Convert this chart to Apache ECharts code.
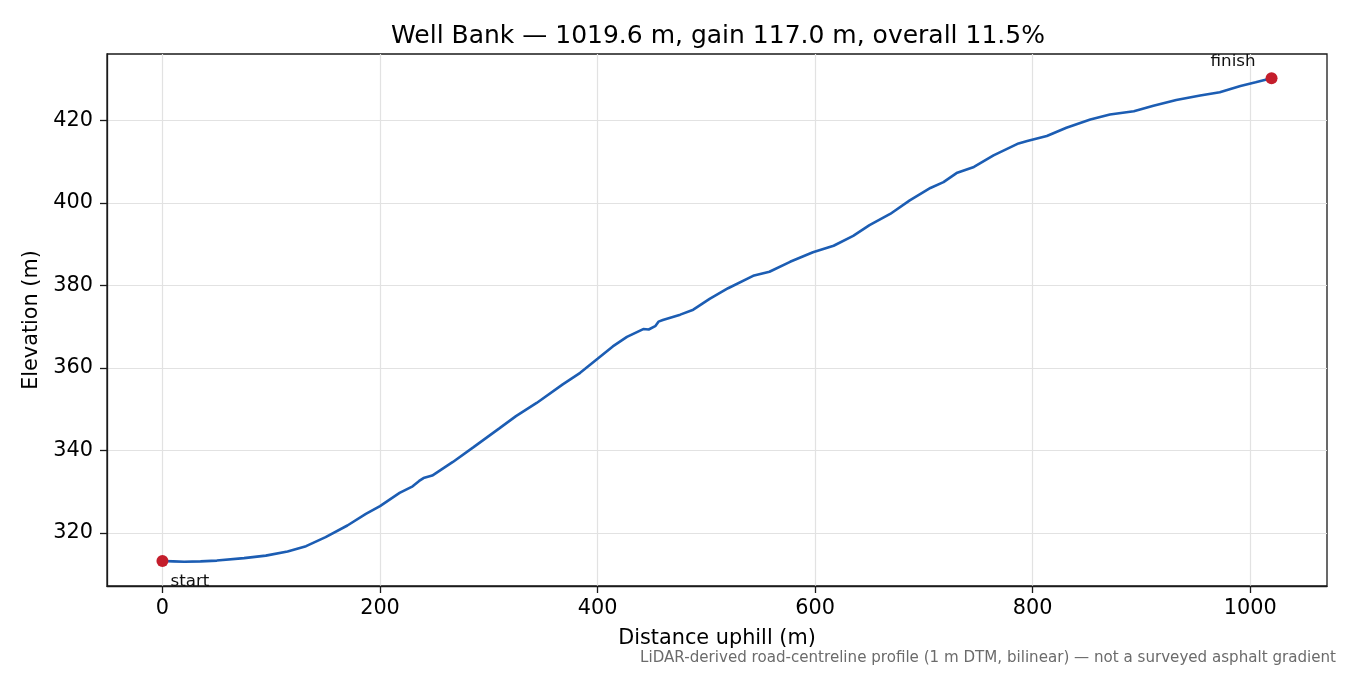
<!DOCTYPE html>
<html>
<head>
<meta charset="utf-8">
<title>Well Bank</title>
<script src="https://cdn.jsdelivr.net/npm/echarts@6/dist/echarts.min.js"></script>
<style>
  html, body { margin: 0; padding: 0; background: #fff; }
  #main { width: 1350px; height: 675px; }
</style>
</head>
<body>
<div id="main"></div>
<script>
// distance along the road (m) and elevation (m)
var dist = [0, 10, 20, 35, 50, 75, 95, 115, 132, 150, 170, 187, 200, 218, 230, 236, 240, 248, 267, 286,
    310, 325, 344, 368, 384, 400, 414, 427, 442, 447, 453, 456, 460, 476, 488, 503, 520, 543, 558, 577,
    598, 617, 635, 650, 669, 687, 706, 718, 730, 746, 764, 787, 795, 813, 831, 853, 871, 893, 911, 932,
    954, 972, 991, 1005, 1019.6]
var elev = [313.2, 313.1, 313.0, 313.1, 313.3, 313.9, 314.5, 315.5, 316.8, 319.0, 321.8, 324.6, 326.5, 329.7, 331.3, 332.6, 333.3, 333.9, 337.2, 340.8,
    345.4, 348.3, 351.5, 356.0, 358.8, 362.2, 365.2, 367.5, 369.4, 369.3, 370.1, 371.2, 371.6, 372.9, 374.1, 376.7, 379.3, 382.3, 383.3, 385.7,
    388.0, 389.6, 392.0, 394.6, 397.3, 400.6, 403.6, 405.0, 407.2, 408.7, 411.5, 414.4, 415.0, 416.2, 418.2, 420.2, 421.4, 422.2, 423.5, 424.9,
    426.0, 426.8, 428.3, 429.2, 430.2]

var xTicks = [0, 200, 400, 600, 800, 1000]
var yTicks = [320, 340, 360, 380, 400, 420]
var endNames = ['start', 'finish']

var titleText = 'Well Bank \u2014 1019.6 m, gain 117.0 m, overall 11.5%'
var noteText = 'LiDAR-derived road-centreline profile (1 m DTM, bilinear) \u2014 not a surveyed asphalt gradient'

var font = 'DejaVu Sans'

var profile = []
for (var i = 0; i < dist.length; i++) {
    profile.push([dist[i], elev[i]])
}

var last = dist.length - 1
var ends = [{
    value: [dist[0], elev[0]],
    label: {
        show: true, formatter: endNames[0], position: 'bottom',
        align: 'left', offset: [8, 0], distance: 6
    }
}, {
    value: [dist[last], elev[last]],
    label: {
        show: true, formatter: endNames[1], position: 'top',
        align: 'right', offset: [-16, 0], distance: 2
    }
}]

// matplotlib-style 5% margins
var xSpan = dist[last] - dist[0]
var yMin = Math.min.apply(null, elev), yMax = Math.max.apply(null, elev)
var ySpan = yMax - yMin

var frame = '#1a1a1a'
var gridCol = '#e2e2e2'

var myChart = echarts.init(document.getElementById('main'))

myChart.setOption({
    animation: false,
    backgroundColor: '#fff',
    textStyle: { fontFamily: font },
    title: {
        text: titleText,
        left: 713,
        textAlign: 'center',
        top: 19,
        textStyle: { fontFamily: font, fontSize: 25, fontWeight: 'normal', color: '#000' }
    },
    graphic: [{
        type: 'text',
        right: 14,
        top: 651,
        style: { text: noteText, fontFamily: font, fontSize: 15.1, fill: '#6b6b6b' }
    }],
    grid: {
        left: 107, right: 23, top: 54, bottom: 89,
        show: true, borderColor: frame, borderWidth: 1.3
    },
    xAxis: {
        type: 'value',
        min: dist[0] - 0.05 * xSpan,
        max: dist[last] + 0.05 * xSpan,
        interval: 200,
        name: 'Distance uphill (m)',
        nameLocation: 'middle',
        nameGap: 42,
        nameTextStyle: { fontFamily: font, fontSize: 20.8, color: '#000' },
        axisLine: { show: true, onZero: false, lineStyle: { color: frame, width: 1.3 } },
        axisTick: { show: true, length: 7, customValues: xTicks, lineStyle: { color: frame, width: 1.3 } },
        axisLabel: {
            customValues: xTicks, margin: 12, fontFamily: font, fontSize: 20.8, color: '#000',
            formatter: function (v) { return String(v) }
        },
        splitLine: { show: true, lineStyle: { color: gridCol, width: 1.2 } }
    },
    yAxis: {
        type: 'value',
        min: yMin - 0.05 * ySpan,
        max: yMax + 0.05 * ySpan,
        interval: 20,
        name: 'Elevation (m)',
        nameLocation: 'middle',
        nameGap: 62,
        nameTextStyle: { fontFamily: font, fontSize: 20.8, color: '#000' },
        axisLine: { show: true, onZero: false, lineStyle: { color: frame, width: 1.3 } },
        axisTick: { show: true, length: 7, customValues: yTicks, lineStyle: { color: frame, width: 1.3 } },
        axisLabel: {
            customValues: yTicks, margin: 14, fontFamily: font, fontSize: 20.8, color: '#000',
            formatter: function (v) { return String(v) }
        },
        splitLine: { show: true, lineStyle: { color: gridCol, width: 1.2 } }
    },
    series: [{
        name: 'profile',
        type: 'line',
        data: profile,
        showSymbol: false,
        smooth: false,
        lineStyle: { color: '#1c5db3', width: 2.6 },
        z: 2
    }, {
        name: 'ends',
        type: 'scatter',
        data: ends,
        symbolSize: 12,
        itemStyle: { color: '#c41e2c', opacity: 1 },
        label: { fontFamily: font, fontSize: 16.7, color: '#111' },
        z: 3
    }]
})
</script>
</body>
</html>
